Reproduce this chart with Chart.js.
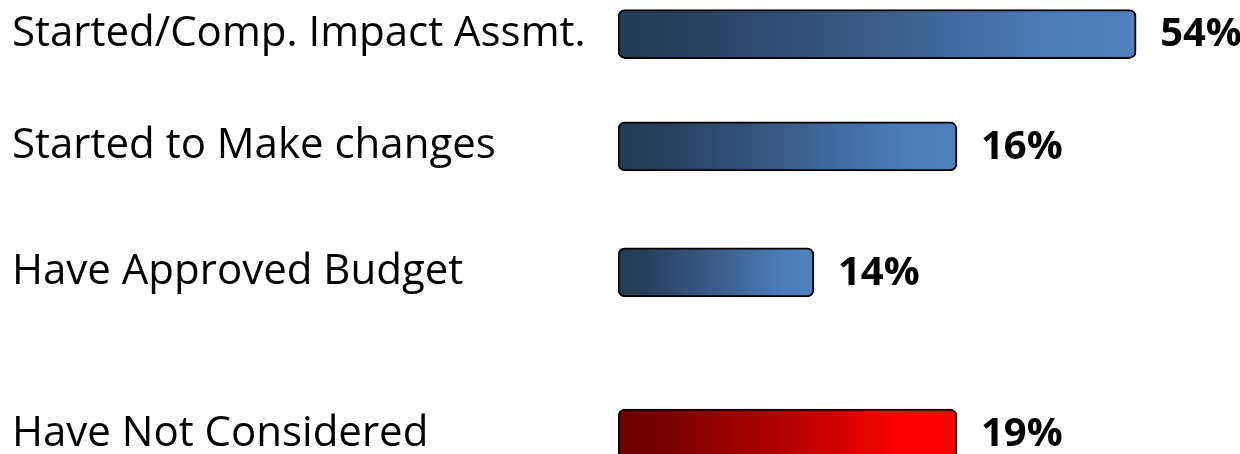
<!DOCTYPE html>
<html>
<head>
<meta charset="utf-8">
<script src="https://cdn.jsdelivr.net/npm/chart.js@4/dist/chart.umd.min.js"></script>
<style>
  html, body { margin: 0; padding: 0; background: #fff; }
  #wrap { width: 1240px; height: 454px; position: relative; }
</style>
</head>
<body>
<div id="wrap"><canvas id="chart"></canvas></div>
<script>
// ── Data ──
const categories = [
  'Started/Comp. Impact Assmt.',
  'Started to Make changes',
  'Have Approved Budget',
  'Have Not Considered'
];
const percentages = [54, 16, 14, 19];          // printed values
const barLengths = [83.3, 54.5, 31.5, 54.5];   // drawn bar length, as seen in the picture
const rowPositions = [0.3, 1.29, 2.4, 3.82];   // rows are not evenly spaced

// gradient stops (dark left -> bright right)
const blueStops = [[0, '#243a56'], [0.15, '#27405f'], [0.5, '#3a5d89'], [0.85, '#4c7dba'], [1, '#4f81bd']];
const redStops = [[0, '#6e0000'], [0.15, '#7a0000'], [0.5, '#b40000'], [0.85, '#ff0000'], [1, '#ff0000']];

const FONT = '"Open Sans", Lato, sans-serif';

function barGradient(context) {
  const chart = context.chart;
  const { chartArea } = chart;
  const stops = context.dataIndex === 3 ? redStops : blueStops;
  if (!chartArea) return stops[2][1];
  const x = chart.scales.x;
  const x0 = x.getPixelForValue(0);
  const x1 = x.getPixelForValue(barLengths[context.dataIndex]);
  const grad = chart.ctx.createLinearGradient(x0, 0, x1, 0);
  stops.forEach(([p, c]) => grad.addColorStop(p, c));
  return grad;
}

// value labels at the end of each bar
const valueLabels = {
  id: 'valueLabels',
  afterDatasetsDraw(chart) {
    const { ctx } = chart;
    const meta = chart.getDatasetMeta(0);
    ctx.save();
    ctx.font = `bold 40px ${FONT}`;
    ctx.fillStyle = '#000';
    ctx.textAlign = 'left';
    ctx.textBaseline = 'middle';
    meta.data.forEach((bar, i) => {
      ctx.fillText(`${percentages[i]}%`, bar.x + 24, bar.y + 1);
    });
    ctx.restore();
  }
};

new Chart(document.getElementById('chart'), {
  type: 'bar',
  data: {
    datasets: [{
      data: barLengths.map((v, i) => ({ x: v, y: rowPositions[i] })),
      backgroundColor: barGradient,
      borderColor: '#000',
      borderWidth: 2,
      borderRadius: 7,
      borderSkipped: false,
      barThickness: 49
    }]
  },
  options: {
    indexAxis: 'y',
    responsive: true,
    maintainAspectRatio: false,
    animation: false,
    layout: { autoPadding: false, padding: { left: 12, right: 0, top: 0, bottom: 0 } },
    plugins: {
      legend: { display: false },
      tooltip: { enabled: false }
    },
    scales: {
      x: {
        type: 'linear',
        display: false,
        min: 0,
        max: 100
      },
      y: {
        type: 'linear',
        reverse: true,
        offset: false,
        min: 0,
        max: 4,
        grid: { display: false },
        border: { display: false },
        afterBuildTicks: scale => {
          scale.ticks = rowPositions.map(v => ({ value: v }));
        },
        afterFit: scale => {
          scale.width = 606;
          scale.paddingTop = 0;
          scale.paddingBottom = 0;
        },
        ticks: {
          autoSkip: false,
          crossAlign: 'far',
          color: '#000',
          font: { family: FONT, size: 42 },
          callback: (value, index) => categories[index]
        }
      }
    }
  },
  plugins: [valueLabels]
});
</script>
</body>
</html>
